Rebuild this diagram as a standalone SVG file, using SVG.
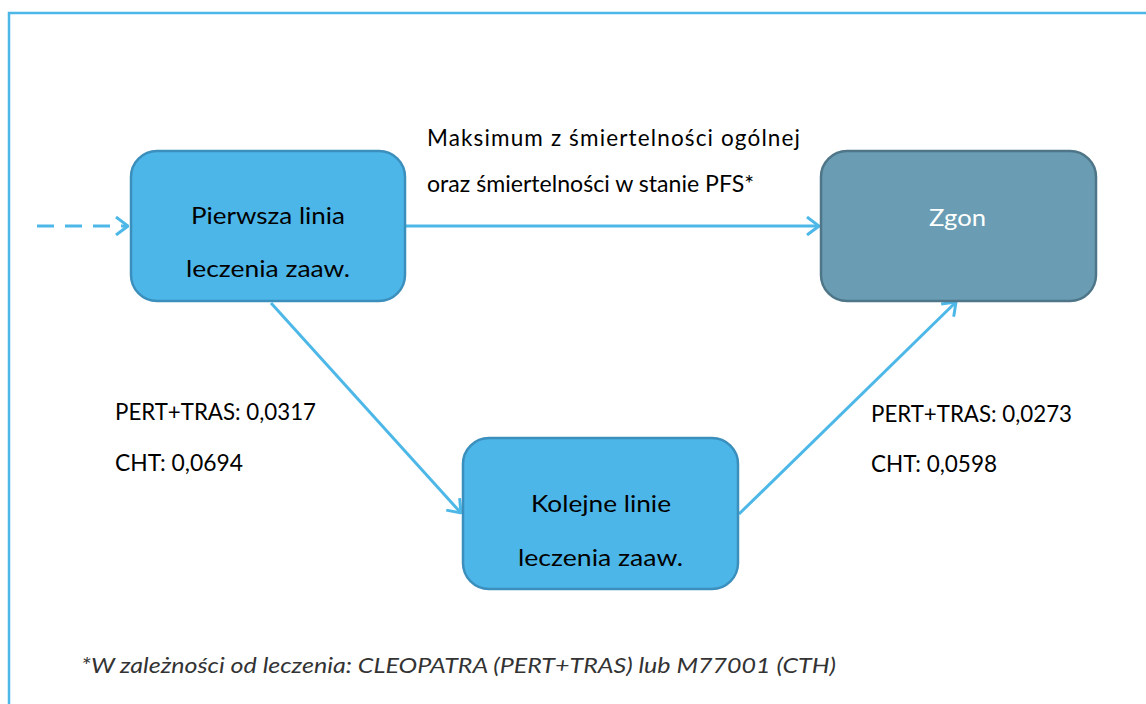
<svg xmlns="http://www.w3.org/2000/svg" width="1146" height="704" viewBox="0 0 1146 704">
<style>
.t{font-family:Lato,"Open Sans",sans-serif;font-size:22.5px;fill:#000}
.node{fill:#4db6e8;stroke:#3b8fbd;stroke-width:2.5}
.zg{fill:#6a9db3;stroke:#4e7688;stroke-width:2.5}
.c{fill:none;stroke:#4db8e8;stroke-width:3}
</style>
<defs>
<marker id="ah" viewBox="0 0 14 20" refX="13" refY="10" markerWidth="14" markerHeight="20" markerUnits="userSpaceOnUse" orient="auto">
<path d="M1,1 L13,10 L1,19" fill="none" stroke="#4db8e8" stroke-width="3"/>
</marker>
</defs>
<rect width="1146" height="704" fill="#fff"/>
<path d="M9,710 V13 H1150" fill="none" stroke="#4db8e8" stroke-width="2.5"/>
<g id="connectors">
<line class="c" x1="37" y1="226" x2="128" y2="226" stroke-dasharray="17,11" marker-end="url(#ah)"/>
<line class="c" x1="406" y1="226" x2="819" y2="226" marker-end="url(#ah)"/>
<line class="c" x1="271" y1="303" x2="461" y2="513" marker-end="url(#ah)"/>
<line class="c" x1="739" y1="514" x2="956" y2="302" marker-end="url(#ah)"/>
</g>
<g id="n-pierwsza">
<rect class="node" x="131" y="151" width="274" height="150" rx="26"/>
<text class="t" x="191" y="224" textLength="154" lengthAdjust="spacingAndGlyphs">Pierwsza linia</text>
<text class="t" x="186" y="277" textLength="164" lengthAdjust="spacingAndGlyphs">leczenia zaaw.</text>
</g>
<g id="n-zgon">
<rect class="zg" x="821" y="151" width="275" height="150" rx="26"/>
<text class="t" x="929" y="226" textLength="57" lengthAdjust="spacingAndGlyphs" style="fill:#fff">Zgon</text>
</g>
<g id="n-kolejne">
<rect class="node" x="463" y="438" width="275" height="151" rx="26"/>
<text class="t" x="531" y="512" textLength="140" lengthAdjust="spacingAndGlyphs">Kolejne linie</text>
<text class="t" x="518" y="566" textLength="165" lengthAdjust="spacingAndGlyphs">leczenia zaaw.</text>
</g>
<g id="labels">
<text class="t" x="427" y="146" textLength="373" lengthAdjust="spacing">Maksimum z śmiertelności ogólnej</text>
<text class="t" x="427" y="192" textLength="327" lengthAdjust="spacingAndGlyphs">oraz śmiertelności w stanie PFS*</text>
<text class="t" x="115" y="420" textLength="201" lengthAdjust="spacingAndGlyphs">PERT+TRAS: 0,0317</text>
<text class="t" x="115" y="471" textLength="128" lengthAdjust="spacingAndGlyphs">CHT: 0,0694</text>
<text class="t" x="871" y="422" textLength="201" lengthAdjust="spacingAndGlyphs">PERT+TRAS: 0,0273</text>
<text class="t" x="871" y="472" textLength="126" lengthAdjust="spacingAndGlyphs">CHT: 0,0598</text>
<text class="t" x="81" y="673" textLength="755" lengthAdjust="spacingAndGlyphs" style="font-style:italic;fill:#333;font-size:21px">*W zależności od leczenia: CLEOPATRA (PERT+TRAS) lub M77001 (CTH)</text>
</g>
</svg>
